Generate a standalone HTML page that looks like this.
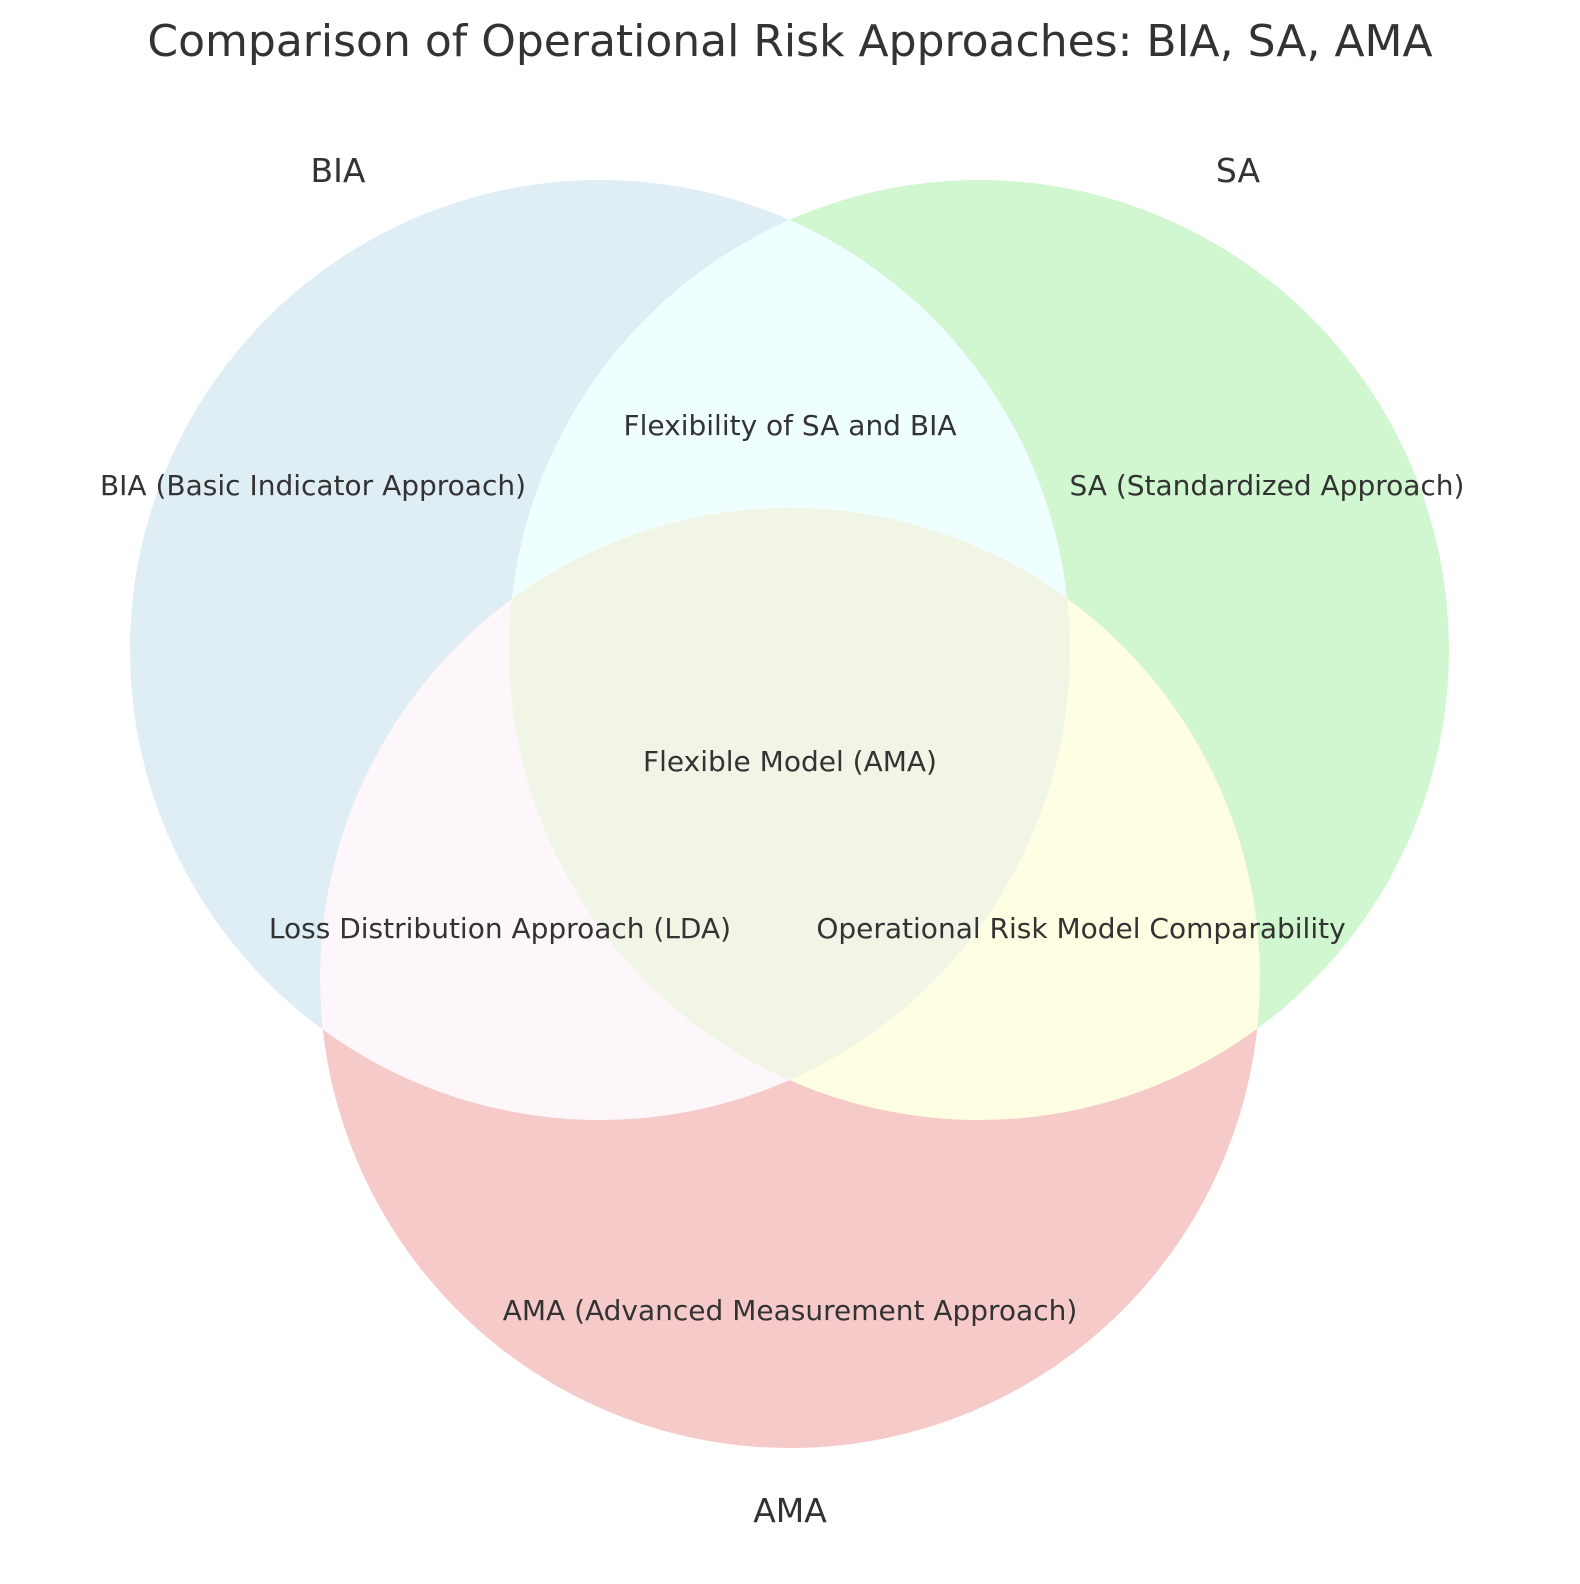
<!DOCTYPE html>
<html><head><meta charset="utf-8"><style>
html,body{margin:0;padding:0;background:#fff}
text{font-family:"DejaVu Sans","Liberation Sans",sans-serif;fill:#333}
</style></head><body>
<svg width="1580" height="1579" viewBox="0 0 1580 1579">
<defs>
<clipPath id="cB"><circle cx="600" cy="650" r="470"/></clipPath>
<clipPath id="cS"><circle cx="979" cy="650" r="470"/></clipPath>
</defs>
<text x="790" y="56" font-size="44" text-anchor="middle">Comparison of Operational Risk Approaches: BIA, SA, AMA</text>
<g id="regions"></g>
<g id="labels"></g>
</svg>
<script>
const setNames=["BIA","SA","AMA"];
const setColors=["#DFEEF5","#D1F7D1","#F7CACA"];
const regionTexts=["BIA (Basic Indicator Approach)","SA (Standardized Approach)","AMA (Advanced Measurement Approach)","Flexibility of SA and BIA","Loss Distribution Approach (LDA)","Operational Risk Model Comparability","Flexible Model (AMA)"];
const NS="http://www.w3.org/2000/svg";
const circles=[[600,650],[979,650],[790,978]];
const R=470;
const g=document.getElementById('regions');
function circ(i,fill,clip){const c=document.createElementNS(NS,'circle');c.setAttribute('cx',circles[i][0]);c.setAttribute('cy',circles[i][1]);c.setAttribute('r',R);c.setAttribute('fill',fill);if(clip)c.setAttribute('clip-path','url(#'+clip+')');return c;}
for(let i=0;i<3;i++){const c=circ(i,setColors[i]);


g.appendChild(c);}
let p=circ(1,"#EFFEFE","cB");


g.appendChild(p);
p=circ(2,"#FDF7FB","cB");


g.appendChild(p);
p=circ(2,"#FEFEE3","cS");


g.appendChild(p);
const tg=document.createElementNS(NS,'g');tg.setAttribute('clip-path','url(#cB)');
p=circ(2,"#F0F5E6","cS");


tg.appendChild(p);g.appendChild(tg);
const lg=document.getElementById('labels');
function txt(x,y,s,fs,name){const t=document.createElementNS(NS,'text');t.setAttribute('x',x);t.setAttribute('y',y);t.setAttribute('font-size',fs);t.setAttribute('text-anchor','middle');t.textContent=s;


lg.appendChild(t);}
const setLabelPos=[[338,182],[1238,182],[790,1522]];
setNames.forEach((n,i)=>txt(setLabelPos[i][0],setLabelPos[i][1],n,33,'set-label-'+n.toLowerCase()));
const regionPos=[[313,495],[1267,495],[790,1320],[790,435],[500,938],[1081,938],[790,771]];
regionTexts.forEach((s,i)=>txt(regionPos[i][0],regionPos[i][1],s,28,'region-label-'+(i+1)));
</script>
</body></html>
